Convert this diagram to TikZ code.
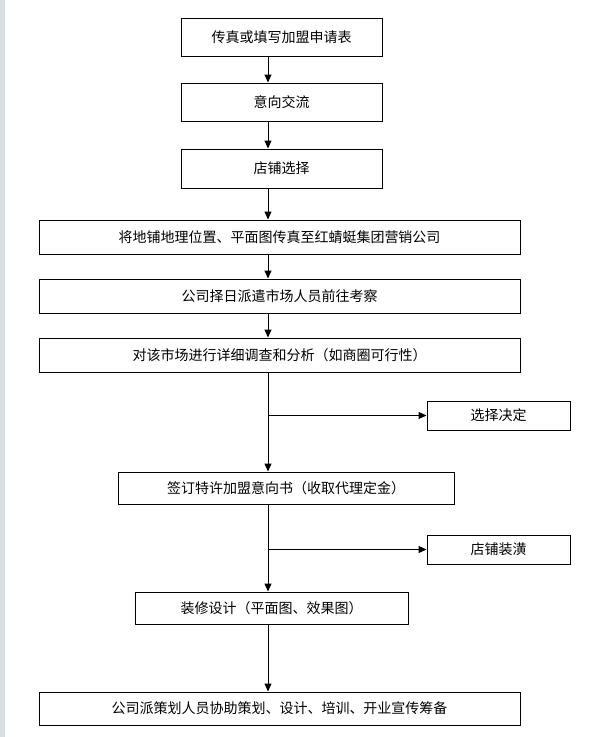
\documentclass[tikz,border=0pt]{standalone}
\usepackage{fontspec}
\newfontfamily\cjk{Noto Sans CJK SC}
\usetikzlibrary{arrows.meta}
\tikzset{
  stepbox/.style={draw, line width=1pt, inner sep=0pt, font=\cjk\fontsize{14}{16}\selectfont},
  flow/.style={line width=1pt, -{Triangle[length=8pt,width=7pt]}}
}
\begin{document}
\begin{tikzpicture}[x=1pt,y=-1pt]
    \useasboundingbox (0,0) rectangle (610,737);
    % frame on the left
    \fill[cyan!15!gray!30] (0,0) rectangle (5,737);
    % Main column
    \node[stepbox, minimum width=201pt, minimum height=38pt] (apply) at (281.5,37) {传真或填写加盟申请表};
    \node[stepbox, minimum width=201pt, minimum height=38pt] (talk) at (281.5,102) {意向交流};
    \node[stepbox, minimum width=201pt, minimum height=39pt] (shop) at (281.5,168.5) {店铺选择};
    \node[stepbox, minimum width=481pt, minimum height=34pt] (fax) at (279.5,237) {将地铺地理位置、平面图传真至红蜻蜓集团营销公司};
    \node[stepbox, minimum width=481pt, minimum height=34pt] (visit) at (279.5,296) {公司择日派遣市场人员前往考察};
    \node[stepbox, minimum width=481pt, minimum height=34pt] (survey) at (279.5,355) {对该市场进行详细调查和分析（如商圈可行性）};
    \node[stepbox, minimum width=336pt, minimum height=32pt] (sign) at (286,488) {签订特许加盟意向书（收取代理定金）};
    \node[stepbox, minimum width=273pt, minimum height=32pt] (design) at (271.5,608) {装修设计（平面图、效果图）};
    \node[stepbox, minimum width=481pt, minimum height=33pt] (plan) at (279.5,708.5) {公司派策划人员协助策划、设计、培训、开业宣传筹备};
    % Side boxes
    \node[stepbox, minimum width=143pt, minimum height=29pt] (decide) at (498.5,415.5) {选择决定};
    \node[stepbox, minimum width=143pt, minimum height=29pt] (decor) at (498.5,549.5) {店铺装潢};
    % Branch points
    \coordinate (b1) at (268,415.5);
    \coordinate (b2) at (268,549.5);
    % Arrows
    \draw[flow] (apply.south -| 268,0) -- (talk.north -| 268,0);
    \draw[flow] (talk.south -| 268,0) -- (shop.north -| 268,0);
    \draw[flow] (shop.south -| 268,0) -- (fax.north -| 268,0);
    \draw[flow] (fax.south -| 268,0) -- (visit.north -| 268,0);
    \draw[flow] (visit.south -| 268,0) -- (survey.north -| 268,0);
    \draw[flow] (survey.south -| 268,0) -- (sign.north -| 268,0);
    \draw[flow] (sign.south -| 268,0) -- (design.north -| 268,0);
    \draw[flow] (design.south -| 268,0) -- (plan.north -| 268,0);
    \draw[flow] (b1) -- (decide.west);
    \draw[flow] (b2) -- (decor.west);
\end{tikzpicture}
\end{document}
